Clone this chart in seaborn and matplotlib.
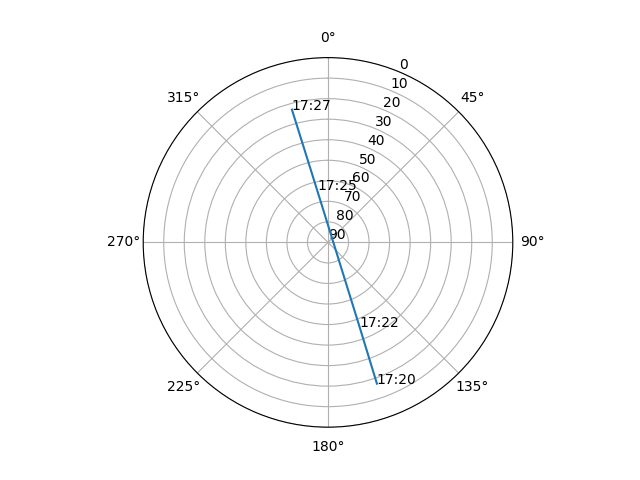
import numpy as np
import seaborn as sns
import matplotlib
matplotlib.use("Agg")
import matplotlib.pyplot as plt

# satellite pass
times = ["17:20", "17:22", "17:25", "17:27"]
azimuth = [160.9, 159.5, 348.2, 344.8]   # degrees, clockwise from north
elevation = [17.2, 46.2, 63.7, 23.0]      # degrees above horizon

theta = np.radians(azimuth)

fig = plt.figure(figsize=(6.4, 4.8), dpi=100)
ax = fig.add_subplot(111, projection="polar")
ax.set_theta_zero_location("N")
ax.set_theta_direction(-1)

sns.lineplot(x=theta, y=elevation, sort=False, estimator=None, ax=ax, color="C0")

for t, r, lab in zip(theta, elevation, times):
	ax.text(t, r, lab)

ax.set_rlim(90, 0)
ax.set_yticks(range(0, 91, 10))
ax.set_xlabel("")
ax.set_ylabel("")
ax.grid(True)

fig.savefig("out.png")
plt.close('all')
